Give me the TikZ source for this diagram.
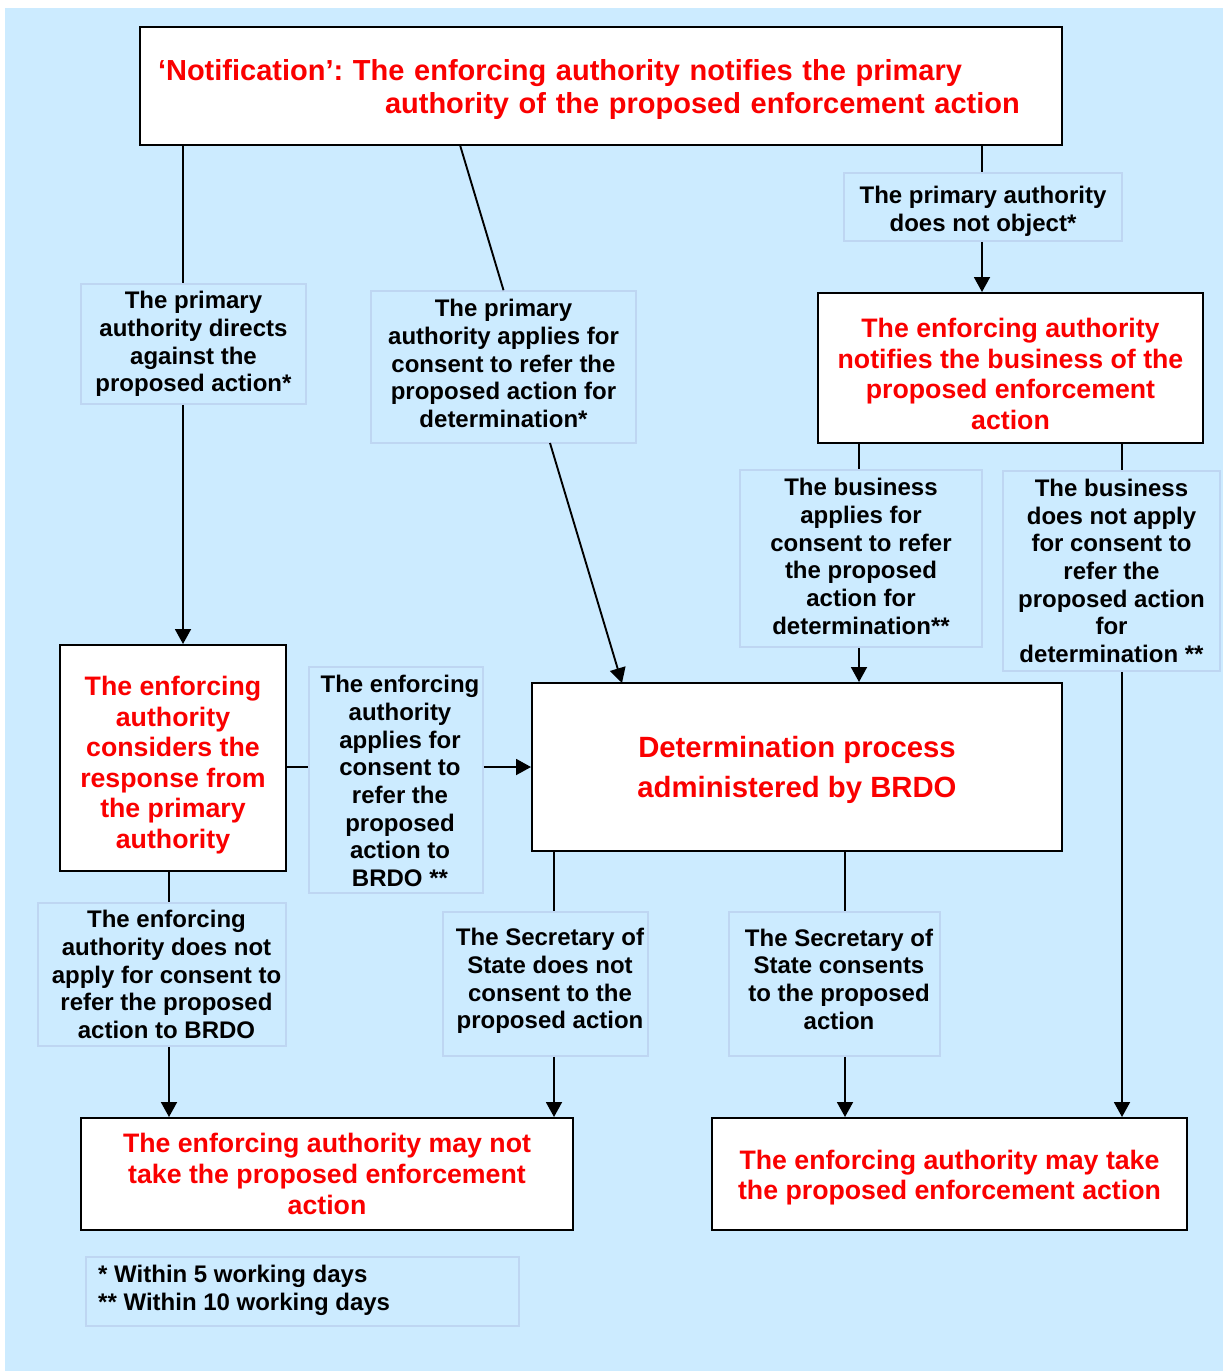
\documentclass[tikz,border=0pt]{standalone}
\usepackage{fontspec}
\setmainfont{Liberation Sans}
\frenchspacing
\usetikzlibrary{arrows.meta}
\definecolor{bgblue}{RGB}{204,235,255}
\definecolor{labline}{RGB}{190,214,242}
\definecolor{redtxt}{RGB}{250,0,0}
\tikzset{
  labbox/.style={draw=labline, fill=bgblue, line width=1.6pt, inner sep=0pt},
  labtext/.style={align=center, inner sep=0pt,
    font=\bfseries\fontsize{24}{27.7}\selectfont, text=black},
  redbox/.style={draw=black, fill=white, line width=2pt, inner sep=0pt},
  redtext/.style={align=center, inner sep=0pt,
    font=\bfseries\fontsize{26.7}{30.6}\selectfont, text=redtxt},
  conn/.style={line width=1.9pt, draw=black},
  arr/.style={conn, -{Triangle[length=15pt,width=16pt]}},
}
\begin{document}
\begin{tikzpicture}[x=1pt,y=-1pt]
\useasboundingbox (0,0) rectangle (1223,1371);
\fill[bgblue] (5,8) rectangle (1223,1371);

% main boxes
\node[redbox, minimum width=922, minimum height=118] (top) at (601,86) {};
\node[redtext, text width=886, align=left,
  font=\bfseries\fontsize{29}{33}\selectfont] (topT) at (601,89)
  {‘Notification’: The enforcing authority notifies the primary\\\hspace*{227pt}authority of the proposed enforcement action};
\node[redbox, minimum width=385, minimum height=150] (notb) at (1010.5,368) {};
\node[redtext] (notbT) at (1010.5,374)
  {The enforcing authority\\notifies the business of the\\proposed enforcement\\action};
\node[redbox, minimum width=226, minimum height=226] (cons) at (173,758) {};
\node[redtext] (consT) at (173,765)
  {The enforcing\\authority\\considers the\\response from\\the primary\\authority};
\node[redbox, minimum width=530, minimum height=168] (det) at (797,767) {};
\node[redtext, font=\bfseries\fontsize{29.3}{40}\selectfont] (detT) at (797,770)
  {Determination process\\administered by BRDO};
\node[redbox, minimum width=492, minimum height=112] (maynot) at (327,1174) {};
\node[redtext] (maynotT) at (327,1174)
  {The enforcing authority may not\\take the proposed enforcement\\action};
\node[redbox, minimum width=475, minimum height=112] (maytake) at (949.5,1174) {};
\node[redtext] (maytakeT) at (949.5,1177.5)
  {The enforcing authority may take\\the proposed enforcement action};

% labels
\node[labbox, minimum width=225, minimum height=120] (l1) at (193.5,344) {};
\node[labtext] (l1T) at (193.5,344)
  {The primary\\authority directs\\against the\\proposed action*};
\node[labbox, minimum width=265, minimum height=152] (l2) at (503.5,367) {};
\node[labtext] (l2T) at (503.5,363.5)
  {The primary\\authority applies for\\consent to refer the\\proposed action for\\determination*};
\node[labbox, minimum width=278, minimum height=68] (l3) at (983,207) {};
\node[labtext] (l3T) at (983,211)
  {The primary authority\\does not object*};
\node[labbox, minimum width=242, minimum height=177] (l4) at (861,558.5) {};
\node[labtext] (l4T) at (861,556.5)
  {The business\\applies for\\consent to refer\\the proposed\\action for\\determination**};
\node[labbox, minimum width=217, minimum height=200] (l5) at (1111.5,571) {};
\node[labtext] (l5T) at (1111.5,571)
  {The business\\does not apply\\for consent to\\refer the\\proposed action\\for\\determination **};
\node[labbox, minimum width=174, minimum height=226] (l6) at (396,780) {};
\node[labtext] (l6T) at (400,781)
  {The enforcing\\authority\\applies for\\consent to\\refer the\\proposed\\action to\\BRDO **};
\node[labbox, minimum width=248, minimum height=143] (l7) at (162,974.5) {};
\node[labtext] (l7T) at (166.5,974.5)
  {The enforcing\\authority does not\\apply for consent to\\refer the proposed\\action to BRDO};
\node[labbox, minimum width=205, minimum height=144] (l8) at (545.5,984) {};
\node[labtext] (l8T) at (550,981)
  {The Secretary of\\State does not\\consent to the\\proposed action};
\node[labbox, minimum width=211, minimum height=144] (l9) at (834.5,984) {};
\node[labtext] (l9T) at (839,979)
  {The Secretary of\\State consents\\to the proposed\\action};
\node[labbox, minimum width=433, minimum height=69] (foot) at (302.5,1291.5) {};
\node[labtext, align=left, anchor=west] (footT) at (98,1290)
  {* Within 5 working days\\{}** Within 10 working days};

% connector points
\coordinate (t1) at (183,145);
\coordinate (t2) at (460,145);
\coordinate (t3) at (982,145);
\coordinate (l2b) at (550,443);
\coordinate (d2) at (622,683);
\coordinate (nb1) at (859,443);
\coordinate (nb2) at (1122,443);
\coordinate (c1) at (169,871);
\coordinate (dd1) at (554,851);
\coordinate (dd2) at (845,851);

% connectors
\draw[conn] (t1) -- (t1 |- l1.north);
\draw[arr] (t1 |- l1.south) -- (t1 |- cons.north);
\draw[conn] (t2) -- (l2.north);
\draw[arr] (l2b) -- (d2);
\draw[conn] (t3) -- (t3 |- l3.north);
\draw[arr] (t3 |- l3.south) -- (t3 |- notb.north);
\draw[conn] (nb1) -- (nb1 |- l4.north);
\draw[arr] (nb1 |- l4.south) -- (nb1 |- det.north);
\draw[conn] (nb2) -- (nb2 |- l5.north);
\draw[arr] (nb2 |- l5.south) -- (nb2 |- maytake.north);
\draw[conn] (cons.east |- det.west) -- (l6.west |- det.west);
\draw[arr] (l6.east |- det.west) -- (det.west);
\draw[conn] (c1) -- (c1 |- l7.north);
\draw[arr] (c1 |- l7.south) -- (c1 |- maynot.north);
\draw[conn] (dd1) -- (dd1 |- l8.north);
\draw[arr] (dd1 |- l8.south) -- (dd1 |- maynot.north);
\draw[conn] (dd2) -- (dd2 |- l9.north);
\draw[arr] (dd2 |- l9.south) -- (dd2 |- maytake.north);
\end{tikzpicture}
\end{document}
